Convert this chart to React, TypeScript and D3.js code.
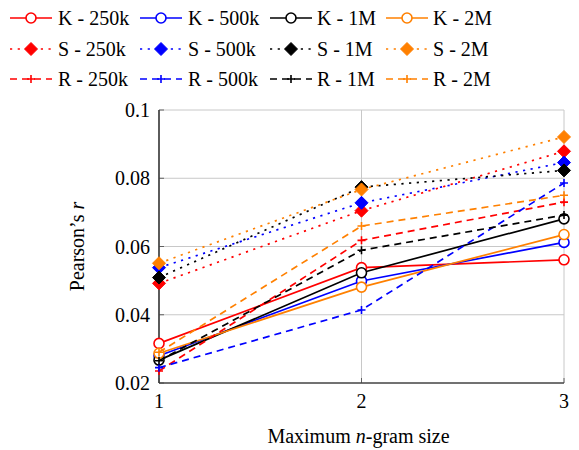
import React from "react";
import * as d3 from "d3";

const xValues = [1, 2, 3];
const sizes = ["250k", "500k", "1M", "2M"];
const methods = ["K", "S", "R"];
const kValues = [
  [0.0316, 0.0538, 0.0561],
  [0.028, 0.0499, 0.0612],
  [0.0267, 0.0523, 0.0681],
  [0.0287, 0.0481, 0.0635],
];
const sValues = [
  [0.0492, 0.0705, 0.0879],
  [0.0538, 0.0728, 0.0846],
  [0.0509, 0.0774, 0.0823],
  [0.0551, 0.0767, 0.0921],
];
const rValues = [
  [0.0235, 0.0618, 0.073],
  [0.0245, 0.0414, 0.0786],
  [0.0265, 0.0589, 0.0692],
  [0.029, 0.066, 0.075],
];
const yTicks = [0.02, 0.04, 0.06, 0.08, 0.1];
const colors = ["#ff0000", "#0000ff", "#000000", "#ff8000"];

const FONT = '"Liberation Serif", "Times New Roman", "DejaVu Serif", serif';
const txt = { fontFamily: FONT } as React.CSSProperties;

const W = 579, H = 450;
const left = 159, right = 564, top = 110, bottom = 383;

const x = d3.scaleLinear().domain([1, 3]).range([left, right]);
const y = d3.scaleLinear().domain([0.02, 0.1]).range([bottom, top]);
const line = d3.line<number>().x((_, i) => x(xValues[i])).y((d) => y(d));

const dashFor = (m: string) => (m === "K" ? undefined : m === "S" ? "2.2 5.5" : "7 5");

function Marker({ m, cx, cy, color }: { m: string; cx: number; cy: number; color: string }) {
  if (m === "K") return <circle cx={cx} cy={cy} r={5} fill="white" stroke={color} strokeWidth={1.6} />;
  if (m === "S") {
    const s = 6.5;
    return <path d={`M${cx},${cy - s}L${cx + s},${cy}L${cx},${cy + s}L${cx - s},${cy}Z`} fill={color} stroke={color} strokeWidth={1} />;
  }
  const s = 4;
  return <path d={`M${cx - s},${cy}H${cx + s}M${cx},${cy - s}V${cy + s}`} stroke={color} strokeWidth={1.6} fill="none" />;
}

export default function App() {
  const allSeries = [kValues, sValues, rValues];
  const legendCols = [
    { lx: 10, tx: 58 },
    { lx: 140, tx: 188 },
    { lx: 270, tx: 317 },
    { lx: 386, tx: 433 },
  ];
  const legendRows = [18, 49, 79];
  return (
    <svg width={W} height={H} style={{ display: "block", position: "absolute", left: 0, top: 0 }}>
      <rect width={W} height={H} fill="white" />
      {yTicks.map((t) => (
        <line key={"gy" + t} x1={left} x2={right} y1={y(t)} y2={y(t)} stroke="#c8c8c8" strokeWidth={1} />
      ))}
      {xValues.map((t) => (
        <line key={"gx" + t} x1={x(t)} x2={x(t)} y1={top} y2={bottom} stroke="#c8c8c8" strokeWidth={1} />
      ))}
      <line x1={left} x2={right} y1={bottom} y2={bottom} stroke="black" strokeWidth={1.2} />
      <line x1={left} x2={left} y1={top} y2={bottom} stroke="black" strokeWidth={1.2} />
      {xValues.map((t) => (
        <line key={"tx" + t} x1={x(t)} x2={x(t)} y1={bottom} y2={bottom - 5} stroke="#444" strokeWidth={0.8} />
      ))}
      {yTicks.map((t) => (
        <line key={"ty" + t} x1={left} x2={left + 5} y1={y(t)} y2={y(t)} stroke="#444" strokeWidth={0.8} />
      ))}
      {yTicks.map((t) => (
        <text key={"yl" + t} x={left - 9} y={y(t)} dy="0.35em" textAnchor="end" fontSize={20} style={txt}>
          {d3.format("")(t)}
        </text>
      ))}
      {xValues.map((t) => (
        <text key={"xl" + t} x={x(t)} y={bottom + 25} textAnchor="middle" fontSize={20} style={txt}>
          {t}
        </text>
      ))}
      <text x={(left + right) / 2 - 3} y={443} textAnchor="middle" fontSize={20} style={txt}>
        Maximum <tspan fontStyle="italic">n</tspan>-gram size
      </text>
      <text transform={`translate(84,${(top + bottom) / 2}) rotate(-90)`} textAnchor="middle" fontSize={20} style={txt}>
        Pearson’s <tspan fontStyle="italic">r</tspan>
      </text>
      {methods.map((m, mi) =>
        sizes.map((s, si) => {
          const vals = allSeries[mi][si];
          const c = colors[si];
          return (
            <g key={m + s}>
              <path d={line(vals) || ""} fill="none" stroke={c} strokeWidth={1.7} strokeDasharray={dashFor(m)} />
              {vals.map((v, i) => (
                <Marker key={i} m={m} cx={x(xValues[i])} cy={y(v)} color={c} />
              ))}
            </g>
          );
        })
      )}
      {methods.map((m, mi) =>
        sizes.map((s, si) => {
          const col = legendCols[si];
          const ry = legendRows[mi];
          const c = colors[si];
          return (
            <g key={"lg" + m + s}>
              <line x1={col.lx} x2={col.lx + 42} y1={ry} y2={ry} stroke={c} strokeWidth={1.7} strokeDasharray={dashFor(m)} />
              <Marker m={m} cx={col.lx + 21} cy={ry} color={c} />
              <text x={col.tx} y={ry} dy="0.35em" fontSize={20} style={txt}>
                {m} - {s}
              </text>
            </g>
          );
        })
      )}
    </svg>
  );
}
